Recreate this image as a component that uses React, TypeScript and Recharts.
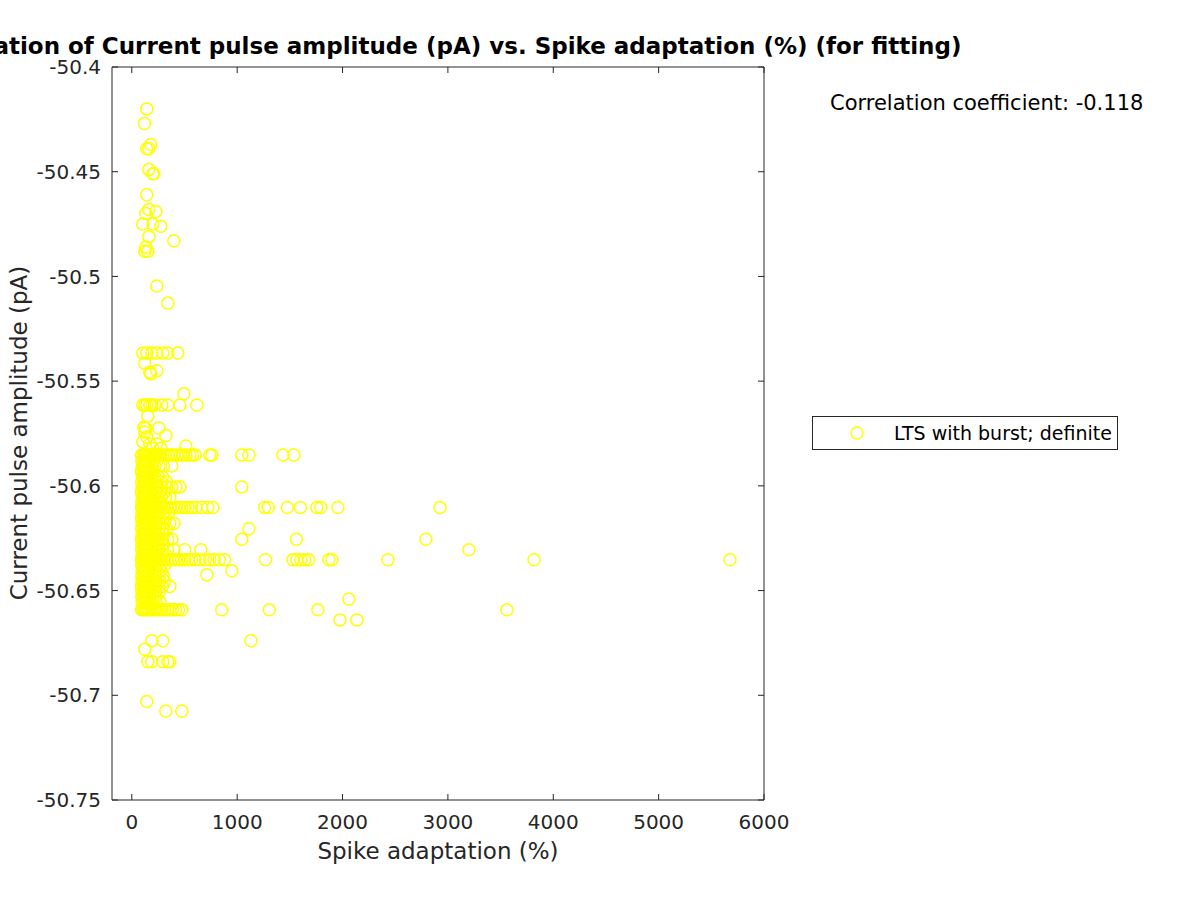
import { Scatter, ScatterChart, XAxis, YAxis } from 'recharts';

// Spike adaptation (%) vs current pulse amplitude (pA)
const isolated: [number, number][] = [
  [142, -50.42], [120, -50.427], [180, -50.437], [142, -50.439], [161, -50.439],
  [161, -50.449], [199, -50.451], [209, -50.451], [142, -50.461], [161, -50.468],
  [228, -50.469], [133, -50.47], [104, -50.475], [199, -50.475], [275, -50.476],
  [161, -50.481], [399, -50.483], [133, -50.486], [123, -50.488], [152, -50.488],
  [237, -50.5046], [342, -50.5127],
  [123, -50.5414], [237, -50.545], [171, -50.5457], [180, -50.5466], [494, -50.556],
  [152, -50.5667], [114, -50.572], [130, -50.5725], [256, -50.5724], [123, -50.5743],
  [323, -50.576], [142, -50.5767], [104, -50.579], [171, -50.58], [237, -50.58],
  [513, -50.581], [199, -50.582], [275, -50.582],
  [712, -50.6425], [2060, -50.654], [1975, -50.664], [2136, -50.664],
  [190, -50.674], [294, -50.674], [1130, -50.674], [123, -50.678],
  [152, -50.684], [190, -50.684], [294, -50.684], [342, -50.684], [361, -50.684],
  [142, -50.703], [323, -50.7075], [475, -50.7075],
];

const rowLevels = [
  -50.5366, -50.5614, -50.5853, -50.588, -50.5905, -50.593, -50.5955, -50.598,
  -50.6005, -50.603, -50.6055, -50.608, -50.6103, -50.613, -50.6155, -50.618,
  -50.6205, -50.623, -50.6255, -50.628, -50.6305, -50.633, -50.6353, -50.638,
  -50.6405, -50.643, -50.6455, -50.648, -50.6505, -50.653, -50.6555, -50.6592,
];

const rowAdaptation: number[][] = [
  [104, 142, 190, 237, 294, 342, 437],
  [104, 123, 142, 171, 190, 218, 285, 342, 456, 617],
  [92, 105, 118, 132, 147, 162, 178, 195, 213, 232, 252, 273, 296, 320, 345, 372, 400, 430, 462, 484, 515, 551, 575, 600, 740, 759, 1044, 1111, 1434, 1538],
  [95, 110, 128, 150, 175, 205, 240],
  [98, 115, 123, 140, 165, 190, 220, 260, 300, 380],
  [92, 108, 126, 145, 170, 200],
  [100, 118, 135, 155, 180, 215, 250, 290],
  [94, 112, 130, 150, 172, 198, 230, 275, 330],
  [97, 115, 134, 155, 180, 210, 245, 285, 330, 380, 420, 456, 1044],
  [92, 108, 125, 143, 163, 190, 225, 265, 310],
  [100, 118, 136, 158, 182, 210, 240, 280, 320, 360],
  [95, 112, 130, 150, 175, 205, 240, 275],
  [93, 106, 120, 134, 149, 165, 182, 200, 220, 241, 263, 287, 312, 336, 362, 390, 418, 447, 476, 506, 537, 567, 608, 664, 721, 769, 1260, 1295, 1476, 1600, 1756, 1794, 1956, 2924],
  [96, 112, 128, 148, 170, 195, 225, 260, 300, 350],
  [92, 108, 125, 142, 162, 185, 210, 240, 275, 320],
  [98, 115, 132, 152, 175, 200, 232, 268, 305, 360, 400],
  [94, 110, 128, 146, 168, 192, 220, 255, 290, 330, 1111],
  [97, 113, 130, 150, 172, 198, 228, 262, 300],
  [92, 108, 125, 143, 165, 190, 218, 250, 290, 340, 380, 1044, 1562, 2791],
  [96, 112, 130, 148, 170, 195, 225, 258, 300],
  [94, 110, 127, 145, 166, 190, 218, 250, 290, 340, 400, 503, 655, 3199],
  [98, 115, 132, 152, 175, 200, 232, 270, 320],
  [91, 103, 117, 131, 146, 162, 179, 197, 217, 239, 261, 284, 309, 334, 359, 387, 414, 444, 474, 504, 534, 566, 600, 646, 700, 740, 780, 830, 880, 1268, 1529, 1566, 1604, 1642, 1680, 1870, 1899, 2430, 3817, 5677],
  [95, 112, 130, 150, 172, 198, 230, 268, 310],
  [98, 115, 133, 152, 175, 200, 235, 275, 949],
  [94, 110, 128, 146, 168, 192, 222, 260, 300],
  [97, 113, 130, 150, 172, 198, 228, 265, 310],
  [92, 108, 125, 143, 165, 190, 218, 250, 290, 361],
  [96, 112, 130, 150, 172, 198, 228, 260],
  [94, 110, 128, 146, 168, 195, 225],
  [98, 115, 133, 152, 175, 200, 232, 268],
  [92, 104, 118, 132, 147, 163, 180, 198, 218, 240, 262, 285, 310, 335, 360, 388, 415, 445, 475, 854, 1305, 1766, 3560],
];

const xTicks = [0, 1000, 2000, 3000, 4000, 5000, 6000];
const yTicks = [-50.75, -50.7, -50.65, -50.6, -50.55, -50.5, -50.45, -50.4];

const points = [
  ...isolated.map(([x, y]) => ({ x, y })),
  ...rowLevels.flatMap((y, i) => rowAdaptation[i].map((x) => ({ x, y }))),
];

const INK = '#262626';
const YELLOW = '#ffff00';
const FONT = '"DejaVu Sans", sans-serif';
const TICK = 6;

const ring = (p: any) => (
  <circle cx={p.cx} cy={p.cy} r={6} fill="none" stroke={YELLOW} strokeWidth={1.5} />
);
const nothing = () => <g />;

const fmtY = (v: number) => String(Number(v.toFixed(2)));

// matlab-style ticks point into the plot box
const BottomTick = ({ x, y, payload }: any) => (
  <g>
    <line x1={x} x2={x} y1={y - 14} y2={y - 14 - TICK} stroke={INK} />
    <text x={x} y={y} dy="0.74em" textAnchor="middle" fontSize={20} fill={INK} fontFamily={FONT}>
      {payload.value}
    </text>
  </g>
);
const LeftTick = ({ x, y, payload }: any) => (
  <g>
    <line x1={x + 11} x2={x + 11 + TICK} y1={y} y2={y} stroke={INK} />
    <text x={x} y={y} dy="0.36em" textAnchor="end" fontSize={20} fill={INK} fontFamily={FONT}>
      {fmtY(payload.value)}
    </text>
  </g>
);
const TopTick = ({ x, y }: any) => <line x1={x} x2={x} y1={y} y2={y + TICK} stroke={INK} />;
const RightTick = ({ x, y }: any) => <line x1={x} x2={x - TICK} y1={y} y2={y} stroke={INK} />;

export default function App() {
  return (
    <div style={{ position: 'absolute', left: 0, top: 0, width: 1200, height: 900, background: '#fff', fontFamily: FONT }}>
      <ScatterChart width={1200} height={900} margin={{ top: 66, right: 435, bottom: 40, left: 52 }}>
        <XAxis xAxisId="b" type="number" dataKey="x" domain={[-188, 6000]} ticks={xTicks} allowDataOverflow
          height={60} tickSize={0} tickMargin={14} tickLine={false} stroke={INK} tick={<BottomTick />} />
        <XAxis xAxisId="t" orientation="top" type="number" dataKey="x" domain={[-188, 6000]} ticks={xTicks} allowDataOverflow
          height={1} tickSize={0} tickMargin={0} tickLine={false} stroke={INK} tick={<TopTick />} />
        <YAxis yAxisId="l" type="number" dataKey="y" domain={[-50.75, -50.4]} ticks={yTicks} allowDataOverflow
          width={60} tickSize={0} tickMargin={11} tickLine={false} stroke={INK} tick={<LeftTick />} />
        <YAxis yAxisId="r" orientation="right" type="number" dataKey="y" domain={[-50.75, -50.4]} ticks={yTicks} allowDataOverflow
          width={1} tickSize={0} tickMargin={0} tickLine={false} stroke={INK} tick={<RightTick />} />
        <Scatter xAxisId="t" yAxisId="r" data={points} shape={nothing} isAnimationActive={false} />
        <Scatter xAxisId="b" yAxisId="l" data={points} shape={ring} isAnimationActive={false} />
      </ScatterChart>
      <svg width={1200} height={900} style={{ position: 'absolute', left: 0, top: 0, pointerEvents: 'none' }}>
        <text x={438} y={54} textAnchor="middle" fontSize={23} fontWeight="bold" fill="#000" fontFamily={FONT}>
          Correlation of Current pulse amplitude (pA) vs. Spike adaptation (%) (for fitting)
        </text>
        <text x={438} y={859} textAnchor="middle" fontSize={23} fill={INK} fontFamily={FONT}>
          Spike adaptation (%)
        </text>
        <text transform="translate(27 433) rotate(-90)" textAnchor="middle" fontSize={23} fill={INK} fontFamily={FONT}>
          Current pulse amplitude (pA)
        </text>
        <text x={830} y={110} fontSize={21} fill="#000" fontFamily={FONT}>
          Correlation coefficient: -0.118
        </text>
        <rect x={812.5} y={416.5} width={305} height={33} fill="#fff" stroke={INK} strokeWidth={1} />
        <circle cx={857} cy={433} r={6} fill="none" stroke={YELLOW} strokeWidth={1.5} />
        <text x={894} y={440} fontSize={19} fill="#000" fontFamily={FONT}>
          LTS with burst; definite
        </text>
      </svg>
    </div>
  );
}
